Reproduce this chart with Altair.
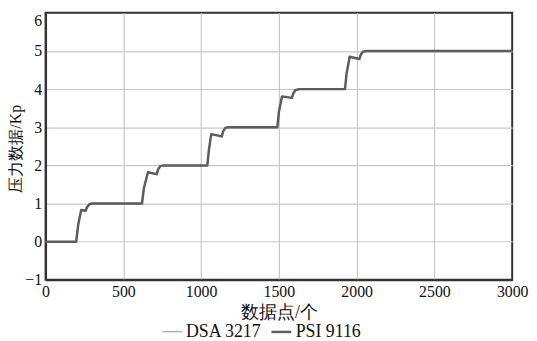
import altair as alt
import pandas as pd

# data points (x index) and pressure values
x_points = [0, 197, 210, 229, 258, 266, 283, 300,
            620, 632, 658, 715, 724, 737, 760,
            1040, 1050, 1065, 1133, 1142, 1157, 1180,
            1490, 1500, 1520, 1584, 1592, 1605, 1630,
            1925, 1935, 1955, 2018, 2026, 2040, 2060,
            3000]
psi_values = [0, 0, 0.45, 0.83, 0.81, 0.90, 0.99, 1.00,
              1.00, 1.40, 1.82, 1.77, 1.90, 1.98, 2.00,
              2.00, 2.40, 2.82, 2.76, 2.90, 2.99, 3.00,
              3.00, 3.40, 3.81, 3.77, 3.88, 3.97, 4.00,
              4.00, 4.40, 4.85, 4.79, 4.90, 4.98, 5.00,
              5.00]
dsa_values = [0, 0, 0.44, 0.82, 0.80, 0.89, 0.98, 0.99,
              0.99, 1.39, 1.81, 1.76, 1.89, 1.97, 1.99,
              1.99, 2.39, 2.81, 2.75, 2.89, 2.98, 2.99,
              2.99, 3.39, 3.80, 3.76, 3.87, 3.96, 3.99,
              3.99, 4.39, 4.84, 4.78, 4.89, 4.97, 4.99,
              4.99]
series_names = ["DSA 3217", "PSI 9116"]
x_ticks = [0, 500, 1000, 1500, 2000, 2500, 3000]
y_ticks = [-1, 0, 1, 2, 3, 4, 5, 6]

rows = []
for xv, yv in zip(x_points, dsa_values):
    rows.append({"x": xv, "y": yv, "s": series_names[0]})
for xv, yv in zip(x_points, psi_values):
    rows.append({"x": xv, "y": yv, "s": series_names[1]})
df = pd.DataFrame(rows)

FONT = "Liberation Serif"

legend_cfg = dict(title=None, orient="none", direction="horizontal",
                  legendX=117, legendY=311,
                  symbolType="stroke", symbolSize=400,
                  labelFontSize=18,
                  labelColor="#111", labelOffset=3,
                  columnPadding=4)

chart = alt.Chart(df).mark_line(strokeJoin="round").encode(
    x=alt.X("x:Q",
            scale=alt.Scale(domain=[0, 3000], nice=False),
            axis=alt.Axis(values=x_ticks, format="d", title="数据点/个", grid=True,
                          gridColor={"condition": {"test": "datum.value == 0 || datum.value == 3000", "value": "transparent"}, "value": "#c8c8c8"},
                          domain=True, domainColor="#333333", domainWidth=2,
                          ticks=False, labelPadding=4, labelFlush=False,
                          labelFontSize=16, titleFontSize=18,
                          titleFontWeight="normal", titleY=24,
                          titleBaseline="top")),
    y=alt.Y("y:Q",
            scale=alt.Scale(domain=[-1, 6], nice=False),
            axis=alt.Axis(values=y_ticks, format="d", title="压力数据/Kp", grid=True,
                          gridColor={"condition": {"test": "datum.value == -1 || datum.value == 6", "value": "transparent"}, "value": "#c8c8c8"},
                          domain=True, domainColor="#333333", domainWidth=2,
                          ticks=False, labelPadding=4,
                          labelFontSize=16, titleFontSize=16,
                          titleFontWeight="normal",
                          labelBaseline={"condition": {"test": "datum.value == 6", "value": "top"}, "value": "middle"},
                          titleX=-30, titleY=137, titleAngle=-90,
                          titleAlign="center", titleBaseline="middle")),
    color=alt.Color("s:N",
                    scale=alt.Scale(domain=series_names, range=["#a3a3a3", "#5c5c5c"]),
                    legend=alt.Legend(**legend_cfg)),
    strokeWidth=alt.StrokeWidth("s:N",
                                scale=alt.Scale(domain=series_names, range=[1.2, 2.5]),
                                legend=alt.Legend(**legend_cfg)),
    order="x:Q",
).properties(
    width=472,
    height=270,
    autosize=alt.AutoSizeParams(type="none"),
    padding={"left": 38, "top": 3, "right": 17, "bottom": 60},
).configure(
    background="white", font=FONT
).configure_view(
    stroke="#333333", strokeWidth=2
).configure_axis(
    gridWidth=1.2, labelColor="#111", titleColor="#111",
    labelFont=FONT, titleFont=FONT
).configure_legend(
    labelFont=FONT
)

chart.save("out.html", embed_options={"renderer": "svg", "actions": False})
